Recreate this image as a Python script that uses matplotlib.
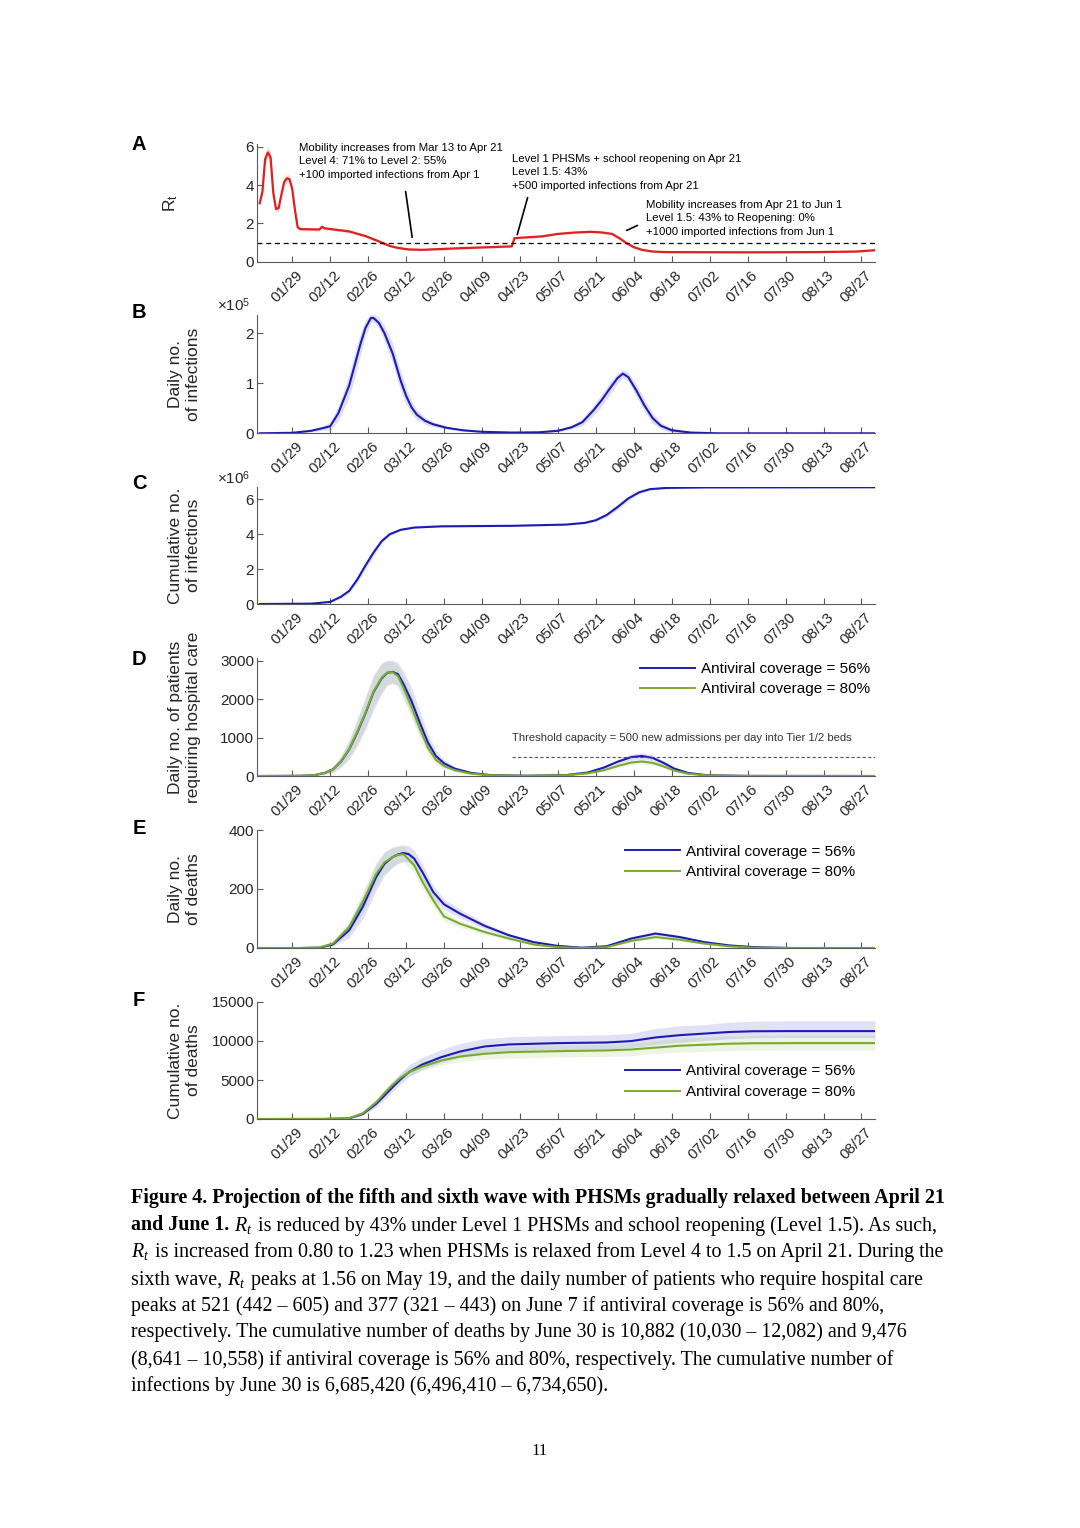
import pandas as pd
import matplotlib
matplotlib.use("Agg")
import matplotlib.pyplot as plt
import matplotlib.transforms as mtransforms
from matplotlib.lines import Line2D

plt.rcParams['font.family'] = ['Liberation Sans', 'DejaVu Sans']
plt.rcParams['mathtext.fontset'] = 'custom'
plt.rcParams['mathtext.rm'] = 'Liberation Sans'
plt.rcParams['mathtext.it'] = 'Liberation Serif:italic'
plt.rcParams['mathtext.sf'] = 'Liberation Sans'

# ---------------- data ----------------
tick_labels = ["01/29", "02/12", "02/26", "03/12", "03/26", "04/09", "04/23", "05/07",
               "05/21", "06/04", "06/18", "07/02", "07/16", "07/30", "08/13", "08/27"]

# A: effective reproduction number
rt_dates = ["01/17", "01/18", "01/19", "01/20", "01/21", "01/22", "01/23", "01/24", "01/25",
            "01/26", "01/27", "01/28", "01/29", "01/30", "01/31", "02/01", "02/08", "02/09",
            "02/10", "02/14", "02/19", "02/25", "03/02", "03/06", "03/09", "03/13", "03/18",
            "03/31", "04/20", "04/21", "05/01", "05/07", "05/13", "05/19", "05/23", "05/27",
            "05/30", "06/01", "06/04", "06/07", "06/11", "06/16", "07/15", "08/10", "08/25", "09/01"]
rt_vals = [3.05, 3.65, 5.35, 5.7, 5.45, 3.6, 2.75, 2.8, 3.5, 4.15, 4.35, 4.3, 3.8, 2.7, 1.8,
           1.7, 1.68, 1.82, 1.74, 1.67, 1.58, 1.34, 1.06, 0.82, 0.72, 0.64, 0.62, 0.7, 0.80,
           1.23, 1.32, 1.45, 1.52, 1.56, 1.53, 1.45, 1.2, 1.0, 0.76, 0.62, 0.53, 0.5, 0.49,
           0.5, 0.53, 0.6]
rt_err = [0.12, 0.2, 0.25, 0.3, 0.3, 0.25, 0.15, 0.15, 0.2, 0.2, 0.2, 0.2, 0.2, 0.15, 0.1,
          0.08, 0.08, 0.08, 0.08, 0.07, 0.07, 0.07, 0.06, 0.06, 0.05, 0.05, 0.05, 0.05, 0.05,
          0.05, 0.05, 0.05, 0.05, 0.05, 0.06, 0.07, 0.08, 0.08, 0.07, 0.05, 0.04, 0.04, 0.04,
          0.04, 0.04, 0.04]

# B: daily infections (x 1e5)
b_dates = ["01/17", "01/29", "02/05", "02/09", "02/12", "02/15", "02/19", "02/21", "02/23",
           "02/25", "02/27", "02/28", "03/02", "03/04", "03/07", "03/10", "03/12", "03/14",
           "03/16", "03/19", "03/22", "03/27", "04/02", "04/09", "04/20", "04/30", "05/07",
           "05/12", "05/16", "05/20", "05/23", "05/26", "05/29", "05/31", "06/02", "06/05",
           "06/08", "06/11", "06/14", "06/18", "06/25", "07/05", "09/01"]
b_vals = [0, 0.01, 0.05, 0.1, 0.14, 0.4, 0.95, 1.35, 1.75, 2.1, 2.3, 2.3, 2.2, 2.0, 1.6,
          1.05, 0.75, 0.52, 0.37, 0.25, 0.18, 0.11, 0.06, 0.03, 0.015, 0.02, 0.05, 0.12,
          0.22, 0.45, 0.65, 0.88, 1.1, 1.19, 1.12, 0.85, 0.55, 0.3, 0.15, 0.06, 0.015, 0, 0]
b_err = [0, 0.005, 0.02, 0.04, 0.08, 0.15, 0.22, 0.25, 0.22, 0.15, 0.09, 0.08, 0.1, 0.15,
         0.2, 0.2, 0.17, 0.13, 0.1, 0.07, 0.05, 0.03, 0.02, 0.01, 0.005, 0.01, 0.02, 0.04,
         0.07, 0.1, 0.12, 0.12, 0.1, 0.08, 0.09, 0.12, 0.12, 0.1, 0.07, 0.04, 0.01, 0, 0]

# C: cumulative infections (x 1e6)
c_dates = ["01/17", "02/05", "02/12", "02/16", "02/19", "02/22", "02/25", "02/28", "03/03",
           "03/06", "03/10", "03/15", "03/25", "04/20", "05/10", "05/17", "05/21", "05/25",
           "05/29", "06/02", "06/06", "06/10", "06/16", "06/30", "09/01"]
c_vals = [0, 0.02, 0.12, 0.42, 0.75, 1.4, 2.2, 2.95, 3.6, 4.0, 4.25, 4.38, 4.45, 4.48, 4.55,
          4.65, 4.8, 5.1, 5.55, 6.05, 6.4, 6.58, 6.65, 6.68, 6.69]
c_err = [0, 0.01, 0.03, 0.08, 0.12, 0.18, 0.2, 0.18, 0.12, 0.08, 0.05, 0.04, 0.04, 0.04, 0.04,
         0.05, 0.08, 0.12, 0.15, 0.12, 0.08, 0.06, 0.05, 0.05, 0.05]

# D: daily patients requiring hospital care
d_dates = ["01/17", "02/01", "02/06", "02/10", "02/13", "02/16", "02/19", "02/22", "02/25",
           "02/28", "03/03", "03/05", "03/07", "03/09", "03/11", "03/14", "03/17", "03/20",
           "03/23", "03/26", "03/30", "04/05", "04/12", "04/25", "05/10", "05/18", "05/24",
           "05/29", "06/03", "06/07", "06/11", "06/15", "06/19", "06/24", "07/01", "07/15", "09/01"]
d_blue = [0, 5, 20, 80, 170, 375, 690, 1130, 1630, 2180, 2540, 2680, 2710, 2650, 2400, 1950,
          1400, 880, 520, 330, 190, 80, 25, 6, 25, 90, 220, 370, 490, 521, 470, 340, 190, 80,
          20, 3, 0]
d_green = [0, 5, 20, 80, 170, 380, 700, 1150, 1650, 2200, 2560, 2690, 2700, 2600, 2300, 1800,
           1250, 750, 420, 260, 150, 60, 20, 5, 20, 70, 150, 260, 350, 377, 340, 250, 140, 60,
           15, 2, 0]
d_blue_err = [0, 3, 10, 40, 80, 150, 250, 350, 420, 450, 400, 330, 300, 300, 330, 350, 300,
              220, 140, 90, 50, 20, 8, 3, 8, 25, 45, 60, 75, 84, 75, 60, 40, 20, 6, 1, 0]
d_green_err = [0, 3, 9, 35, 70, 130, 220, 310, 380, 400, 360, 300, 270, 270, 300, 310, 260,
               190, 120, 75, 40, 16, 6, 2, 6, 18, 32, 45, 55, 60, 55, 45, 30, 15, 5, 1, 0]
threshold = 500

# E: daily deaths
e_dates = ["01/17", "02/01", "02/08", "02/13", "02/19", "02/24", "03/01", "03/04", "03/07",
           "03/09", "03/11", "03/13", "03/15", "03/18", "03/22", "03/26", "04/01", "04/10",
           "04/19", "04/28", "05/07", "05/16", "05/25", "06/03", "06/12", "06/21", "06/30",
           "07/09", "07/18", "08/01", "09/01"]
e_blue = [0, 0, 1, 12, 60, 139, 241, 285, 308, 317, 322, 318, 303, 258, 190, 148, 116, 75, 43,
          20, 7, 1, 6, 32, 49, 37, 20, 9, 3, 0, 0]
e_green = [0, 0, 2, 15, 71, 156, 252, 290, 308, 316, 318, 300, 280, 225, 162, 107, 82, 54, 32,
           12, 3, 0, 3, 24, 37, 28, 15, 6, 1, 0, 0]
e_blue_err = [0, 0, 1, 6, 25, 40, 45, 40, 35, 30, 28, 28, 28, 28, 22, 18, 15, 10, 7, 4, 2, 1,
              2, 5, 6, 5, 3, 2, 1, 0, 0]
e_green_err = [0, 0, 1, 6, 22, 36, 40, 36, 32, 28, 26, 26, 26, 26, 20, 16, 12, 8, 6, 3, 2, 1,
               2, 4, 5, 4, 3, 2, 1, 0, 0]

# F: cumulative deaths
f_dates = ["01/17", "02/10", "02/19", "02/24", "03/01", "03/04", "03/07", "03/10", "03/13",
           "03/18", "03/25", "04/01", "04/10", "04/19", "05/07", "05/25", "06/03", "06/12",
           "06/21", "06/30", "07/09", "07/18", "08/01", "09/01"]
f_blue = [0, 5, 86, 640, 1950, 3000, 4070, 5100, 6000, 6990, 7930, 8660, 9300, 9560, 9730,
          9810, 9990, 10450, 10750, 10950, 11150, 11250, 11270, 11270]
f_green = [0, 8, 120, 720, 2150, 3300, 4370, 5300, 6000, 6730, 7500, 8010, 8360, 8570, 8700,
           8790, 8910, 9150, 9400, 9520, 9650, 9710, 9730, 9730]
f_blue_lo = [0, 3, 40, 420, 1500, 2500, 3500, 4500, 5400, 6350, 7250, 7900, 8500, 8750, 8900,
             8980, 9150, 9550, 9850, 10050, 10300, 10420, 10450, 10450]
f_blue_hi = [0, 10, 200, 1000, 2500, 3700, 4800, 5900, 6900, 7900, 8900, 9700, 10300, 10550,
             10700, 10800, 11000, 11600, 11950, 12100, 12400, 12550, 12600, 12600]
f_green_lo = [0, 5, 80, 500, 1700, 2800, 3900, 4800, 5500, 6200, 6900, 7350, 7650, 7800, 7950,
              8020, 8120, 8400, 8560, 8650, 8780, 8840, 8860, 8860]
f_green_hi = [0, 12, 200, 1000, 2600, 3800, 4900, 5900, 6600, 7300, 8150, 8700, 9100, 9300,
              9450, 9550, 9700, 10050, 10350, 10500, 10650, 10720, 10750, 10750]

legend_labels = ["Antiviral coverage = 56%", "Antiviral coverage = 80%"]

caption_lines = [
    [("Figure 4. Projection of the fifth and sixth wave with PHSMs gradually relaxed between April 21", "bold")],
    [("and June 1.", "bold"), ("$R_t$", "normal"),
     ("is reduced by 43% under Level 1 PHSMs and school reopening (Level 1.5). As such,", "normal")],
    [("$R_t$", "normal"),
     ("is increased from 0.80 to 1.23 when PHSMs is relaxed from Level 4 to 1.5 on April 21. During the", "normal")],
    [("sixth wave,", "normal"), ("$R_t$", "normal"),
     ("peaks at 1.56 on May 19, and the daily number of patients who require hospital care", "normal")],
    [("peaks at 521 (442 \u2013 605) and 377 (321 \u2013 443) on June 7 if antiviral coverage is 56% and 80%,", "normal")],
    [("respectively. The cumulative number of deaths by June 30 is 10,882 (10,030 \u2013 12,082) and 9,476", "normal")],
    [("(8,641 \u2013 10,558) if antiviral coverage is 56% and 80%, respectively. The cumulative number of", "normal")],
    [("infections by June 30 is 6,685,420 (6,496,410 \u2013 6,734,650).", "normal")],
]

# ---------------- drawing ----------------
RED = '#e0201f'
BLUE = '#1c1cb4'
GREEN = '#77ac30'
AXC = '#5a5a5a'
TXT = '#262626'

W, H = 1080, 1528
fig = plt.figure(figsize=(W / 100, H / 100), dpi=100)


def dates(lst):
    return pd.to_datetime(["2022/" + s for s in lst])


def add_axes(top, bottom):
    return fig.add_axes([257 / W, 1 - bottom / H, 618 / W, (bottom - top) / H])


def style(ax, ylim, yticks):
    ax.set_xlim(pd.Timestamp("2022-01-16"), pd.Timestamp("2022-09-01"))
    ax.set_ylim(*ylim)
    ax.set_yticks(yticks)
    ax.set_xticks(dates(tick_labels))
    ax.set_xticklabels(tick_labels, rotation=45, ha='right', va='center',
                       rotation_mode='anchor')
    for s in ['top', 'right']:
        ax.spines[s].set_visible(False)
    for s in ['left', 'bottom']:
        ax.spines[s].set_color(AXC)
        ax.spines[s].set_linewidth(0.8)
    ax.tick_params(direction='in', length=4, width=0.8, color=AXC,
                   labelsize=11, labelcolor=TXT)
    ax.tick_params(axis='x', pad=8)
    ax.tick_params(axis='y', pad=2)
    offset = mtransforms.ScaledTranslation(0.08, 0, fig.dpi_scale_trans)
    for lab in ax.get_xticklabels():
        lab.set_transform(lab.get_transform() + offset)


def ylabel(ax, text, x=-0.09):
    ax.set_ylabel(text, fontsize=12.5, color=TXT, linespacing=1.25)
    ax.yaxis.set_label_coords(x, 0.5)


def legend(ax, x, y):
    handles = [Line2D([], [], color=BLUE, lw=1.4), Line2D([], [], color=GREEN, lw=1.4)]
    ax.legend(handles, legend_labels, loc='upper left', bbox_to_anchor=(x, y),
              frameon=False, fontsize=11, handlelength=3.6, handletextpad=0.4,
              labelspacing=0.42, borderpad=0, borderaxespad=0)


def band(ax, x, v, e, color, alpha):
    lo = [a - b for a, b in zip(v, e)]
    hi = [a + b for a, b in zip(v, e)]
    ax.fill_between(x, lo, hi, color=color, alpha=alpha, linewidth=0)


# ---- A ----
axA = add_axes(144, 261.7)
x = dates(rt_dates)
band(axA, x, rt_vals, rt_err, RED, 0.18)
axA.plot(x, rt_vals, color=RED, lw=1.6)
axA.axhline(1, color='k', lw=0.9, ls=(0, (4, 3)))
style(axA, (0, 6.14), [0, 2, 4, 6])
axA.set_ylabel(r'$\mathrm{R}_\mathrm{t}$', fontsize=12.5, color=TXT)
axA.yaxis.set_label_coords(-0.125, 0.5)

note_kw = dict(fontsize=8.2, color='k', va='top', ha='left', linespacing=1.45)
axA.text(pd.Timestamp("2022-01-31 12:00"), 6.2,
         "Mobility increases from Mar 13 to Apr 21\nLevel 4: 71% to Level 2: 55%\n"
         "+100 imported infections from Apr 1", **note_kw)
axA.text(pd.Timestamp("2022-04-20"), 5.63,
         "Level 1 PHSMs + school reopening on Apr 21\nLevel 1.5: 43%\n"
         "+500 imported infections from Apr 21", **note_kw)
axA.text(pd.Timestamp("2022-06-08 12:00"), 3.23,
         "Mobility increases from Apr 21 to Jun 1\nLevel 1.5: 43% to Reopening: 0%\n"
         "+1000 imported infections from Jun 1", **note_kw)
ptr = dict(arrowstyle='-', color='k', lw=1.2, shrinkA=0, shrinkB=0)
axA.annotate('', xy=(pd.Timestamp("2022-03-14 06:00"), 1.27),
             xytext=(pd.Timestamp("2022-03-11 20:00"), 3.66), arrowprops=ptr)
axA.annotate('', xy=(pd.Timestamp("2022-04-22"), 1.41),
             xytext=(pd.Timestamp("2022-04-25 20:00"), 3.34), arrowprops=ptr)
axA.annotate('', xy=(pd.Timestamp("2022-06-01 10:00"), 1.63),
             xytext=(pd.Timestamp("2022-06-05 08:00"), 1.89), arrowprops=ptr)

# ---- B ----
axB = add_axes(315, 433.3)
x = dates(b_dates)
band(axB, x, b_vals, b_err, BLUE, 0.15)
axB.plot(x, b_vals, color=BLUE, lw=1.5)
style(axB, (0, 2.36), [0, 1, 2])
ylabel(axB, "Daily no.\nof infections")
axB.text(-0.011, 1.085, r'$\times\mathrm{10}^\mathrm{5}$', transform=axB.transAxes,
         ha='right', va='center', fontsize=11, color=TXT)

# ---- C ----
axC = add_axes(486.7, 604)
x = dates(c_dates)
band(axC, x, c_vals, c_err, BLUE, 0.15)
axC.plot(x, c_vals, color=BLUE, lw=1.5)
style(axC, (0, 6.72), [0, 2, 4, 6])
ylabel(axC, "Cumulative no.\nof infections")
axC.text(-0.011, 1.075, r'$\times\mathrm{10}^\mathrm{6}$', transform=axC.transAxes,
         ha='right', va='center', fontsize=11, color=TXT)

# ---- D ----
axD = add_axes(658, 776)
x = dates(d_dates)
band(axD, x, d_blue, d_blue_err, BLUE, 0.13)
band(axD, x, d_green, d_green_err, GREEN, 0.13)
axD.plot(x, d_blue, color=BLUE, lw=1.5)
axD.plot(x, d_green, color=GREEN, lw=1.5)
axD.plot([pd.Timestamp("2022-04-20"), pd.Timestamp("2022-09-01")], [threshold, threshold],
         color='#555555', lw=0.8, ls=(0, (3, 2)))
axD.text(pd.Timestamp("2022-04-20"), 2 * threshold,
         "Threshold capacity = 500 new admissions per day into Tier 1/2 beds",
         fontsize=8.15, color='#333333', va='center', ha='left')
style(axD, (0, 3070), [0, 1000, 2000, 3000])
ylabel(axD, "Daily no. of patients\nrequiring hospital care")
legend(axD, 0.619, 0.966)

# ---- E ----
axE = add_axes(830, 948)
x = dates(e_dates)
band(axE, x, e_blue, e_blue_err, BLUE, 0.13)
band(axE, x, e_green, e_green_err, GREEN, 0.13)
axE.plot(x, e_blue, color=BLUE, lw=1.5)
axE.plot(x, e_green, color=GREEN, lw=1.5)
style(axE, (0, 400), [0, 200, 400])
ylabel(axE, "Daily no.\nof deaths")
legend(axE, 0.595, 0.875)

# ---- F ----
axF = add_axes(1002, 1119)
x = dates(f_dates)
axF.fill_between(x, f_blue_lo, f_blue_hi, color=BLUE, alpha=0.13, linewidth=0)
axF.fill_between(x, f_green_lo, f_green_hi, color=GREEN, alpha=0.13, linewidth=0)
axF.plot(x, f_blue, color=BLUE, lw=1.5)
axF.plot(x, f_green, color=GREEN, lw=1.5)
style(axF, (0, 15000), [0, 5000, 10000, 15000])
ylabel(axF, "Cumulative no.\nof deaths")
legend(axF, 0.595, 0.466)

# panel letters
for letter, yp in zip("ABCDEF", [144, 312, 483.5, 659, 828, 1001]):
    fig.text(139 / W, 1 - yp / H, letter, fontsize=14.5, fontweight='bold',
             ha='center', va='center', color='k')

# ---------------- caption ----------------
renderer = fig.canvas.get_renderer()
probe = fig.text(0, 0, caption_lines[0][0][0], fontsize=13, family='Liberation Serif',
                 weight='bold')
cap_fs = 13 * 815 / probe.get_window_extent(renderer).width
probe.remove()
space_px = cap_fs * 100 / 72 * 0.25

baselines = [1203.5, 1230.5, 1257.5, 1284.5, 1310.5, 1337.5, 1364.5, 1390.5]
for pieces, yb in zip(caption_lines, baselines):
    xp = 131
    for i, (s, wgt) in enumerate(pieces):
        if i > 0:
            xp += space_px
        t = fig.text(xp / W, 1 - yb / H, s, fontsize=cap_fs, family='Liberation Serif',
                     weight=wgt, va='baseline', ha='left', color='k')
        xp = t.get_window_extent(renderer).x1

fig.text(540 / W, 1 - 1451 / H, "11", family='Liberation Serif', fontsize=12,
         ha='center', va='center', color='k')

fig.savefig("out.png", dpi=100)
